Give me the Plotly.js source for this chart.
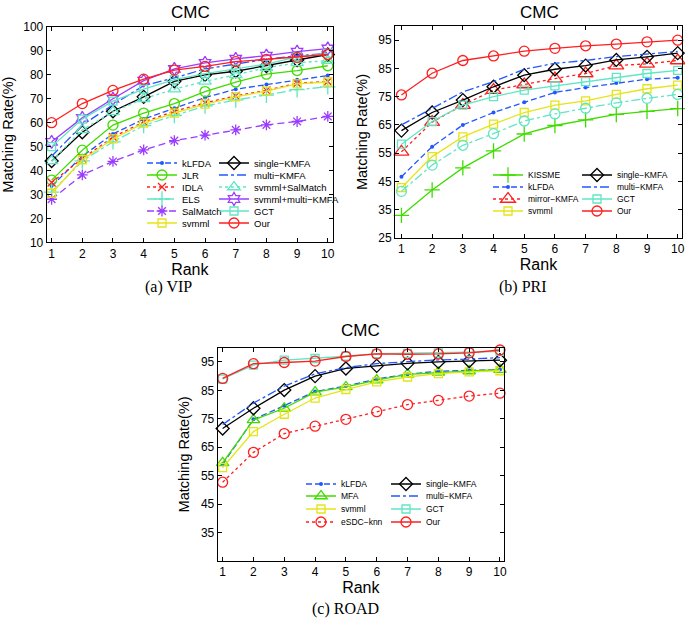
<!DOCTYPE html>
<html><head><meta charset="utf-8">
<script src="https://cdn.plot.ly/plotly-3.0.1.min.js"></script>
<style>html,body{margin:0;padding:0;background:#fff}</style>
</head><body><div id="chart" style="width:685px;height:620px"></div>
<script>
// ---------- data ----------
const ranks = [1, 2, 3, 4, 5, 6, 7, 8, 9, 10];
const panelTitles = ['CMC', 'CMC', 'CMC'];
const captions = ['(a) VIP', '(b) PRI', '(c) ROAD'];

// (a) VIP
const vipKLFDA      = [33.5, 46, 55.3, 61.5, 66, 70.5, 74, 76, 78, 79.7];
const vipJLR        = [36, 48.5, 59, 64, 68, 73, 77, 80.3, 81.8, 83.8];
const vipIDLA       = [35, 45, 54, 60.3, 64.8, 68.3, 71.2, 73.5, 76.5, 77.2];
const vipELS        = [31, 44, 52, 58.8, 63, 67, 69.5, 71.5, 73.8, 75];
const vipSalMatch   = [28, 38.2, 43.8, 48.6, 52.5, 54.8, 57, 59.1, 60.5, 62.6];
const vipSvmml      = [30.5, 44.5, 53.2, 59.8, 64, 67.8, 70.8, 73.2, 76.2, 77];
const vipSingle     = [44, 56, 64.8, 70.8, 77.3, 80, 81.5, 83.7, 86.2, 88.5];
const vipMulti      = [46, 59, 67.5, 75.5, 78.7, 82.5, 84.5, 86.5, 88, 89];
const vipSvmmlSal   = [44, 57, 64.5, 70, 74, 77.3, 80, 83, 85, 86];
const vipSvmmlMulti = [52, 62, 70, 77.6, 82.5, 85, 86.7, 88, 89.7, 91];
const vipGCT        = [50, 61.5, 69, 74, 78, 80.5, 82.5, 84.5, 87.5, 89];
const vipOur        = [60, 68, 73.5, 78.2, 82, 83.5, 85.5, 86.5, 87.3, 88.5];

// (b) PRI
const priKISSME  = [33, 42, 49.8, 55.8, 61.8, 64.8, 66.8, 68.7, 69.8, 70.8];
const priKLFDA   = [46.7, 57.3, 65, 69.4, 73, 76.5, 78.2, 79.8, 81.2, 81.7];
const priMirror  = [55.5, 66, 72, 77.3, 79.3, 81.4, 83.2, 86, 86.6, 87.8];
const priSvmml   = [42.8, 53.8, 60.8, 65.3, 69.4, 72, 73.5, 75.8, 77.8, 79.1];
const priSingle  = [63, 69.4, 73.8, 78.5, 82.6, 84.7, 86, 88, 89.1, 90.4];
const priMulti   = [65, 70.8, 76.7, 80.3, 84.7, 86.8, 87.8, 89.2, 90, 91];
const priGCT     = [58.2, 66.2, 72, 75, 77.3, 78.8, 80.3, 81.8, 83.2, 84.3];
const priOur     = [75.6, 83.3, 87.8, 89.4, 91.1, 92.1, 93, 93.6, 94.4, 95];
const priUnlabeled = [41.5, 50.8, 57.8, 61.9, 66.4, 68.9, 70.9, 72.8, 74.4, 75.8];

// (c) ROAD
const roadKLFDA  = [59, 74.8, 79.6, 84.6, 86.5, 89, 90.7, 91.7, 92, 92.3];
const roadMFA    = [59.5, 74.6, 78.7, 84.4, 86.2, 88.6, 90.6, 91.3, 91.8, 92.3];
const roadSvmml  = [57.8, 70.5, 76.6, 82.3, 85.3, 88, 89.7, 90.9, 91.5, 91.9];
const roadESDC   = [52.7, 63.2, 69.8, 72.4, 74.8, 77.5, 80, 81.5, 83, 84];
const roadSingle = [71.6, 78.7, 85.1, 90, 92.7, 93.6, 94.5, 95, 95.3, 95.6];
const roadMulti  = [73, 80.5, 86.5, 90.8, 93, 94.4, 95.1, 95.7, 96, 96.5];
const roadGCT    = [89, 93.9, 95.6, 96.2, 97, 97.9, 98, 98.2, 98.4, 98.7];
const roadOur    = [89.2, 94.4, 94.8, 95.3, 96.9, 97.8, 97.7, 97.8, 98.2, 99.2];

const yTicksA = [10, 20, 30, 40, 50, 60, 70, 80, 90, 100];
const yTicksB = [25, 35, 45, 55, 65, 75, 85, 95];
const yTicksC = [35, 45, 55, 65, 75, 85, 95];

// ---------- styles ----------
const W = 685, H = 620;
const RED = '#ff1f1f', BLUE = '#2257ff', GREEN = '#40dc00', YELLOW = '#e4e418',
      AQUA = '#5fe6c4', PURPLE = '#9b3cff', BLACK = '#000000';
const FONT = 'Liberation Sans, Arial, sans-serif';

const sty = {
  kLFDA:   {c: BLUE, d: '6px,3px', s: 'circle', z: 4, filled: true},
  JLR:     {c: GREEN, d: 'solid', s: 'circle-open', z: 10},
  IDLA:    {c: RED, d: 'dot', s: 'x-thin-open', z: 8},
  ELS:     {c: AQUA, d: 'dashdot', s: 'cross-thin-open', z: 11},
  SalMatch:{c: PURPLE, d: '7px,4px', s: 'asterisk-open', z: 9},
  svmml:   {c: YELLOW, d: 'solid', s: 'square-open', z: 8},
  single:  {c: BLACK, d: 'solid', s: 'diamond-open', z: 10},
  multi:   {c: BLUE, d: 'dashdot', s: null},
  svmmlSal:{c: AQUA, d: 'dot', s: 'triangle-up-open', z: 11},
  svmmlMul:{c: PURPLE, d: 'solid', s: 'hexagram-open', z: 10},
  GCT:     {c: AQUA, d: 'solid', s: 'square-open', z: 8},
  Our:     {c: RED, d: 'solid', s: 'circle-open', z: 10},
  KISSME:  {c: GREEN, d: 'solid', s: 'cross-thin-open', z: 11},
  mirror:  {c: RED, d: 'dot', s: 'triangle-up-open', z: 13},
  unl:     {c: AQUA, d: 'dashdot', s: 'circle-open', z: 10},
  MFA:     {c: GREEN, d: 'solid', s: 'triangle-up-open', z: 11},
  eSDC:    {c: RED, d: 'dot', s: 'circle-open', z: 10}
};

const traces = [];
const layout = {
  width: W, height: H, margin: {l: 0, r: 0, t: 0, b: 0},
  paper_bgcolor: '#fff', plot_bgcolor: '#fff', showlegend: true,
  font: {family: FONT, color: '#000'},
  annotations: []
};
let legendCount = 0;

function addTrace(panel, name, y, st, legendPos, fontSize) {
  const ax = panel === 1 ? '' : String(panel);
  const t = {
    type: 'scatter', x: ranks, y: y, name: name,
    xaxis: 'x' + ax, yaxis: 'y' + ax,
    mode: st.s ? 'lines+markers' : 'lines',
    line: {color: st.c, width: 1.3, dash: st.d},
    cliponaxis: false
  };
  if (st.s) {
    t.marker = {symbol: st.s, size: st.z, color: st.c,
                line: {color: st.c, width: st.filled ? 0 : 1.3}};
  }
  if (legendPos) {
    legendCount++;
    const id = legendCount === 1 ? 'legend' : 'legend' + legendCount;
    t.legend = id;
    layout[id] = {
      x: legendPos[0] / W, y: 1 - legendPos[1] / H,
      xanchor: 'left', yanchor: 'middle',
      bgcolor: 'rgba(0,0,0,0)', borderwidth: 0,
      font: {family: FONT, size: fontSize, color: '#000'},
      itemclick: false, itemdoubleclick: false
    };
  } else {
    t.showlegend = false;
  }
  traces.push(t);
}

// legend slot positions (pixel x of legend box, pixel y of item centre)
const aX = [142, 214], aY = [163, 175, 187, 199, 211, 223];
const bX = [488, 577], bY = [175, 187, 199, 211];
const cX = [301, 386], cY = [484, 496, 509, 522];
const fa = 9.5, fb = 8.5;

// panel (a)
addTrace(1, 'kLFDA', vipKLFDA, sty.kLFDA, [aX[0], aY[0]], fa);
addTrace(1, 'JLR', vipJLR, sty.JLR, [aX[0], aY[1]], fa);
addTrace(1, 'IDLA', vipIDLA, sty.IDLA, [aX[0], aY[2]], fa);
addTrace(1, 'ELS', vipELS, sty.ELS, [aX[0], aY[3]], fa);
addTrace(1, 'SalMatch', vipSalMatch, sty.SalMatch, [aX[0], aY[4]], fa);
addTrace(1, 'svmml', vipSvmml, sty.svmml, [aX[0], aY[5]], fa);
addTrace(1, 'single−KMFA', vipSingle, sty.single, [aX[1], aY[0]], fa);
addTrace(1, 'multi−KMFA', vipMulti, sty.multi, [aX[1], aY[1]], fa);
addTrace(1, 'svmml+SalMatch', vipSvmmlSal, sty.svmmlSal, [aX[1], aY[2]], fa);
addTrace(1, 'svmml+multi−KMFA', vipSvmmlMulti, sty.svmmlMul, [aX[1], aY[3]], fa);
addTrace(1, 'GCT', vipGCT, sty.GCT, [aX[1], aY[4]], fa);
addTrace(1, 'Our', vipOur, sty.Our, [aX[1], aY[5]], fa);

// panel (b)
addTrace(2, 'KISSME', priKISSME, sty.KISSME, [bX[0], bY[0]], fb);
addTrace(2, 'kLFDA', priKLFDA, sty.kLFDA, [bX[0], bY[1]], fb);
addTrace(2, 'mirror−KMFA', priMirror, sty.mirror, [bX[0], bY[2]], fb);
addTrace(2, 'svmml', priSvmml, sty.svmml, [bX[0], bY[3]], fb);
addTrace(2, '(unlabeled)', priUnlabeled, sty.unl, null, fb);
addTrace(2, 'single−KMFA', priSingle, sty.single, [bX[1], bY[0]], fb);
addTrace(2, 'multi−KMFA', priMulti, sty.multi, [bX[1], bY[1]], fb);
addTrace(2, 'GCT', priGCT, sty.GCT, [bX[1], bY[2]], fb);
addTrace(2, 'Our', priOur, sty.Our, [bX[1], bY[3]], fb);

// panel (c)
addTrace(3, 'kLFDA', roadKLFDA, sty.kLFDA, [cX[0], cY[0]], fb);
addTrace(3, 'MFA', roadMFA, sty.MFA, [cX[0], cY[1]], fb);
addTrace(3, 'svmml', roadSvmml, sty.svmml, [cX[0], cY[2]], fb);
addTrace(3, 'eSDC−knn', roadESDC, sty.eSDC, [cX[0], cY[3]], fb);
addTrace(3, 'single−KMFA', roadSingle, sty.single, [cX[1], cY[0]], fb);
addTrace(3, 'multi−KMFA', roadMulti, sty.multi, [cX[1], cY[1]], fb);
addTrace(3, 'GCT', roadGCT, sty.GCT, [cX[1], cY[2]], fb);
addTrace(3, 'Our', roadOur, sty.Our, [cX[1], cY[3]], fb);

// ---------- axes ----------
function xAx(domain, range, anchor) {
  return {domain: domain, range: range, anchor: anchor, tickvals: ranks,
    ticks: 'inside', ticklen: 4, tickcolor: '#000', mirror: 'allticks',
    showline: true, linecolor: '#000', linewidth: 1, showgrid: false, zeroline: false,
    tickfont: {family: FONT, size: 12, color: '#000'}, ticklabeloverflow: 'allow',
    title: {text: 'Rank', font: {family: FONT, size: 16, color: '#000'}, standoff: 2},
    automargin: false, fixedrange: true};
}
function yAx(domain, range, tickvals, anchor) {
  return {domain: domain, range: range, anchor: anchor, tickvals: tickvals,
    ticks: 'inside', ticklen: 4, tickcolor: '#000', mirror: 'allticks',
    showline: true, linecolor: '#000', linewidth: 1, showgrid: false, zeroline: false,
    tickfont: {family: FONT, size: 12, color: '#000'}, ticklabeloverflow: 'allow',
    title: {text: 'Matching Rate(%)', font: {family: FONT, size: 14.5, color: '#000'}, standoff: 7},
    automargin: false, fixedrange: true};
}
layout.xaxis  = xAx([46.7 / W, 333 / W], [0.84, 10.17], 'y');
layout.yaxis  = yAx([1 - 242.3 / H, 1 - 27 / H], [10, 100], yTicksA, 'x');
layout.xaxis2 = xAx([395 / W, 682 / W], [0.79, 10.14], 'y2');
layout.yaxis2 = yAx([1 - 238 / H, 1 - 26 / H], [25, 100], yTicksB, 'x2');
layout.xaxis3 = xAx([217.7 / W, 504 / W], [0.84, 10.13], 'y3');
layout.yaxis3 = yAx([1 - 561 / H, 1 - 347.7 / H], [25, 100], yTicksC, 'x3');

// ---------- titles & captions ----------
const titlePos = [[190, 12], [539, 12], [360, 330]];
const capPos = [[168, 287], [523, 287], [345, 609]];
for (let i = 0; i < 3; i++) {
  layout.annotations.push({text: panelTitles[i], xref: 'paper', yref: 'paper',
    x: titlePos[i][0] / W, y: 1 - titlePos[i][1] / H, xanchor: 'center', yanchor: 'middle',
    showarrow: false, font: {family: FONT, size: 17, color: '#000'}});
  layout.annotations.push({text: captions[i], xref: 'paper', yref: 'paper',
    x: capPos[i][0] / W, y: 1 - capPos[i][1] / H, xanchor: 'center', yanchor: 'middle',
    showarrow: false, font: {family: 'Liberation Serif, Times New Roman, serif', size: 16, color: '#000'}});
}

Plotly.newPlot('chart', traces, layout, {displayModeBar: false, staticPlot: true});
</script></body></html>
